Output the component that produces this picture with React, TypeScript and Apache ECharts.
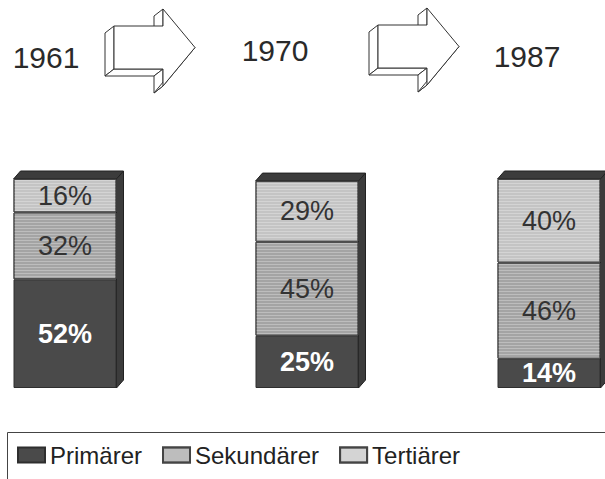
import React, { useEffect, useRef } from "react";
import * as echarts from "echarts";

const years = ["1961", "1970", "1987"];
const primaer = [52, 25, 14];
const sekundaer = [32, 45, 46];
const tertiaer = [16, 29, 40];
const legendNames = ["Primärer", "Sekundärer", "Tertiärer"];

const FONT = '"Liberation Sans", Arial, Helvetica, sans-serif';

function arrow(L: number, T: number) {
  const ox = -9, oy = 7;
  const A = [L + 9, T + 17];
  const B = [L + 58, T + 17];
  const C = [L + 58, T];
  const D = [L + 90, T + 38.5];
  const E = [L + 58, T + 77];
  const F = [L + 58, T + 60];
  const G = [L + 9, T + 60];
  const s = (p: number[]) => [p[0] + ox, p[1] + oy];
  const st = { fill: "#fff", stroke: "#333", lineWidth: 1 };
  const faces = [
    [A, G, s(G), s(A)],
    [G, F, s(F), s(G)],
    [B, C, s(C), s(B)],
    [F, E, s(E), s(F)],
    [E, D, s(D), s(E)],
  ];
  const children: any[] = faces.map((pts) => ({
    type: "polygon",
    shape: { points: pts },
    style: st,
  }));
  children.push({
    type: "polygon",
    shape: { points: [A, B, C, D, E, F, G] },
    style: st,
  });
  return { type: "group", children };
}

function yearText(text: string, x: number, y: number) {
  return {
    type: "text",
    x,
    y,
    style: {
      text,
      fontSize: 30,
      fontFamily: FONT,
      fill: "#2a2a2a",
      align: "center",
      verticalAlign: "middle",
      textAlign: "center",
      textVerticalAlign: "middle",
    },
  };
}

export default function App() {
  const ref = useRef<HTMLDivElement>(null);
  useEffect(() => {
    if (!ref.current) return;
    const chart = echarts.init(ref.current, null, { renderer: "svg" });
    const totals = years.map((_, i) => primaer[i] + sekundaer[i] + tertiaer[i]);
    const stripe = {
      symbol: "rect",
      symbolSize: 1,
      dashArrayX: [5, 0],
      dashArrayY: [1, 2],
      color: "rgba(255,255,255,0.28)",
    };
    const legendStripe = {
      symbol: "rect",
      symbolSize: 1,
      dashArrayX: [5, 0],
      dashArrayY: [1, 1],
      color: "rgba(255,255,255,0.55)",
    };
    const labelBase = {
      show: true,
      position: "inside",
      formatter: "{c}%",
      fontSize: 27,
      fontFamily: FONT,
    };
    chart.setOption({
      animation: false,
      grid: { left: 65, right: 56, top: 179, bottom: 91 },
      xAxis: { type: "category", data: years, boundaryGap: false, show: false },
      yAxis: { type: "value", min: 0, max: 100, show: false },
      legend: {
        data: [
          { name: legendNames[0] },
          { name: legendNames[1], itemStyle: { decal: legendStripe } },
          { name: legendNames[2], itemStyle: { decal: legendStripe } },
        ],
        left: 17,
        top: 443,
        padding: 0,
        itemWidth: 27,
        itemHeight: 15,
        itemGap: 20,
        icon: "rect",
        textStyle: { fontSize: 24, fontFamily: FONT, color: "#222", lineHeight: 24 },
      },
      series: [
        {
          name: legendNames[0],
          type: "bar",
          stack: "s",
          clip: false,
          barWidth: 103,
          data: primaer,
          itemStyle: { color: "#4a4a4a", borderColor: "#2e2e2e", borderWidth: 1 },
          label: { ...labelBase, color: "#fff", fontWeight: "bold" },
        },
        {
          name: legendNames[1],
          type: "bar",
          stack: "s",
          clip: false,
          barWidth: 103,
          data: sekundaer,
          itemStyle: { color: "#a4a4a4", borderColor: "#444", borderWidth: 1, decal: stripe },
          label: { ...labelBase, color: "#333" },
        },
        {
          name: legendNames[2],
          type: "bar",
          stack: "s",
          clip: false,
          barWidth: 103,
          data: tertiaer,
          itemStyle: { color: "#c4c4c4", borderColor: "#444", borderWidth: 1, decal: stripe },
          label: { ...labelBase, color: "#333" },
        },
        {
          name: "depth",
          type: "custom",
          clip: false,
          silent: true,
          data: totals.map((t, i) => [i, t]),
          encode: { x: 0, y: 1 },
          renderItem: (params: any, api: any) => {
            const i = api.value(0);
            const top = api.coord([i, api.value(1)]);
            const bot = api.coord([i, 0]);
            const h = 103 / 2;
            const dx = 7, dy = 8;
            const xl = top[0] - h, xr = top[0] + h;
            const style = { fill: "#3c3c3c", stroke: "#222", lineWidth: 1 };
            return {
              type: "group",
              children: [
                {
                  type: "polygon",
                  shape: { points: [[xl, top[1]], [xr, top[1]], [xr + dx, top[1] - dy], [xl + dx, top[1] - dy]] },
                  style,
                },
                {
                  type: "polygon",
                  shape: { points: [[xr, top[1]], [xr + dx, top[1] - dy], [xr + dx, bot[1] - dy], [xr, bot[1]]] },
                  style,
                },
              ],
            };
          },
        },
      ],
      graphic: [
        yearText(years[0], 46, 57),
        arrow(105, 9),
        yearText(years[1], 275, 50),
        arrow(369, 8),
        yearText(years[2], 527, 56),
        {
          type: "rect",
          shape: { x: 7.5, y: 432.5, width: 700, height: 100 },
          style: { fill: "none", stroke: "#444", lineWidth: 1 },
          silent: true,
        },
      ],
    });
    return () => chart.dispose();
  }, []);
  return <div ref={ref} style={{ width: 605, height: 479, position: "absolute", left: 0, top: 0 }} />;
}
